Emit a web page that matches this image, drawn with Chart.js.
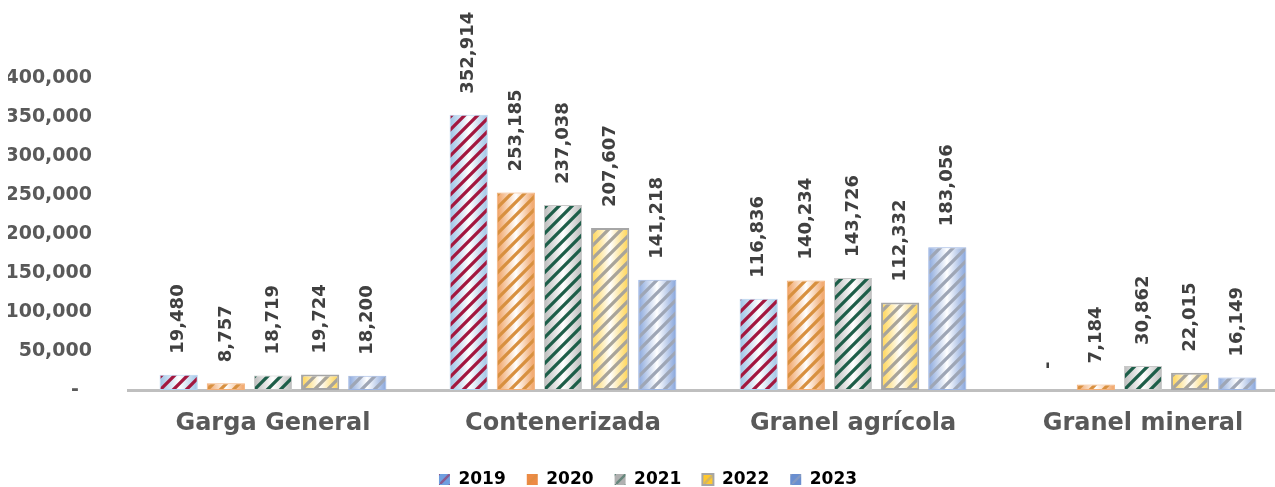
<!DOCTYPE html>
<html><head><meta charset="utf-8">
<script src="https://cdn.jsdelivr.net/npm/chart.js@4.4.1/dist/chart.umd.min.js"></script>
<style>
html,body{margin:0;padding:0;background:#fff;overflow:hidden}
#wrap{position:relative;width:1290px;height:487px}
</style></head><body>
<div id="wrap"><canvas id="c"></canvas></div>
<script>
const categories = ['Garga General', 'Contenerizada', 'Granel agrícola', 'Granel mineral'];
const years = ['2019', '2020', '2021', '2022', '2023'];
const v2019 = [19480, 352914, 116836, 0];
const v2020 = [8757, 253185, 140234, 7184];
const v2021 = [18719, 237038, 143726, 30862];
const v2022 = [19724, 207607, 112332, 22015];
const v2023 = [18200, 141218, 183056, 16149];
const yTicksMax = 400000;
const yTickStep = 50000;

const seriesValues = [v2019, v2020, v2021, v2022, v2023];
const edgeCol   = ['#9dc3e6', '#f0a060', '#bdbdbd', '#ffd34d', '#88a6dc'];
const stripeCol = ['#a3173f', '#d8903f', '#1d5e49', '#a8a49a', '#9ea6b6'];
const borderCol = ['#b5d2ee', '#f2b07a', '#c8c8c8', '#a6a6a6', '#9db5e2'];
const iconCol   = ['#6f9fe0', '#ed8b45', '#b0b0b0', '#ffc82e', '#6a8fd0'];
const borderW   = [1, 1, 1, 2, 1];
const FONT = '"DejaVu Sans", sans-serif';

function tile(w, h, edge, stripe, period, lw){
  const c = document.createElement('canvas');
  c.width = Math.max(1, Math.round(w)); c.height = h;
  const g = c.getContext('2d');
  const gr = g.createLinearGradient(0, 0, c.width, 0);
  gr.addColorStop(0, edge); gr.addColorStop(0.5, '#ffffff'); gr.addColorStop(1, edge);
  g.fillStyle = gr; g.fillRect(0, 0, c.width, h);
  g.strokeStyle = stripe; g.lineWidth = lw;
  for (let x = -2 * h; x < c.width + 2 * h; x += period){
    g.beginPath(); g.moveTo(x - h, 2 * h); g.lineTo(x + 2 * h, -h); g.stroke();
  }
  return c;
}

function barFill(i){
  return (ctx) => {
    const meta = ctx.chart.getDatasetMeta(ctx.datasetIndex);
    const el = meta.data[ctx.dataIndex];
    if (!el || !el.width) return edgeCol[i];
    const P = 13;
    const t = tile(el.width, P, edgeCol[i], stripeCol[i], P, 3.3);
    const p = ctx.chart.ctx.createPattern(t, 'repeat');
    p.setTransform(new DOMMatrix().translate(Math.round(el.x - el.width / 2), 0));
    return p;
  };
}

function legendFill(ctx2d, i){
  const c = document.createElement('canvas');
  c.width = 11; c.height = 11;
  const g = c.getContext('2d');
  g.fillStyle = iconCol[i]; g.fillRect(0, 0, 11, 11);
  g.strokeStyle = stripeCol[i]; g.globalAlpha = 0.5; g.lineWidth = 2.5;
  g.beginPath(); g.moveTo(-1, 12); g.lineTo(12, -1); g.stroke();
  return ctx2d.createPattern(c, 'repeat');
}

const labelPlugin = {
  id: 'vlabels',
  afterDatasetsDraw(chart){
    const ctx = chart.ctx;
    ctx.save();
    ctx.font = 'bold 18px ' + FONT;
    ctx.fillStyle = '#404040';
    ctx.textAlign = 'left';
    ctx.textBaseline = 'middle';
    chart.data.datasets.forEach((ds, di) => {
      chart.getDatasetMeta(di).data.forEach((el, j) => {
        const v = ds.data[j];
        const txt = v === 0 ? '-' : v.toLocaleString('en-US');
        ctx.save();
        ctx.translate(el.x, el.y - 21);
        ctx.rotate(-Math.PI / 2);
        ctx.fillText(txt, 0, 0);
        ctx.restore();
      });
    });
    ctx.restore();
  }
};

const chart = new Chart(document.getElementById('c'), {
  type: 'bar',
  data: {
    labels: categories,
    datasets: years.map((y, i) => ({
      label: y,
      data: seriesValues[i],
      backgroundColor: barFill(i),
      borderColor: borderCol[i],
      borderWidth: borderW[i],
      borderSkipped: false,
      categoryPercentage: 0.813,
      barPercentage: 0.81
    }))
  },
  options: {
    responsive: true,
    maintainAspectRatio: false,
    animation: false,
    layout: { padding: { top: 78, left: 8, right: 2, bottom: -11 } },
    plugins: {
      tooltip: { enabled: false },
      legend: {
        position: 'bottom',
        labels: {
          boxWidth: 11, boxHeight: 11,
          padding: 21,
          color: '#595959',
          font: { family: FONT, size: 17, weight: 'bold' },
          generateLabels: (ch) => years.map((y, i) => ({
            text: y, fillStyle: legendFill(ch.ctx, i),
            strokeStyle: i === 3 ? '#a6a6a6' : iconCol[i], lineWidth: i === 3 ? 2 : 0,
            datasetIndex: i, hidden: false
          }))
        }
      }
    },
    scales: {
      x: {
        grid: { display: false },
        border: { display: true, color: '#bfbfbf', width: 3 },
        ticks: { color: '#595959', padding: 14, font: { family: FONT, size: 24, weight: 'bold', lineHeight: 1.0 } }
      },
      y: {
        min: 0, max: yTicksMax,
        grid: { display: false },
        border: { display: false },
        afterFit: (s) => { s.width = 120; },
        ticks: {
          stepSize: yTickStep,
          padding: 28,
          color: '#595959',
          font: { family: FONT, size: 19, weight: 'bold' },
          callback: (v) => v === 0 ? '-  ' : v.toLocaleString('en-US')
        }
      }
    }
  },
  plugins: [labelPlugin]
});
chart.update('none');
</script>
</body></html>
